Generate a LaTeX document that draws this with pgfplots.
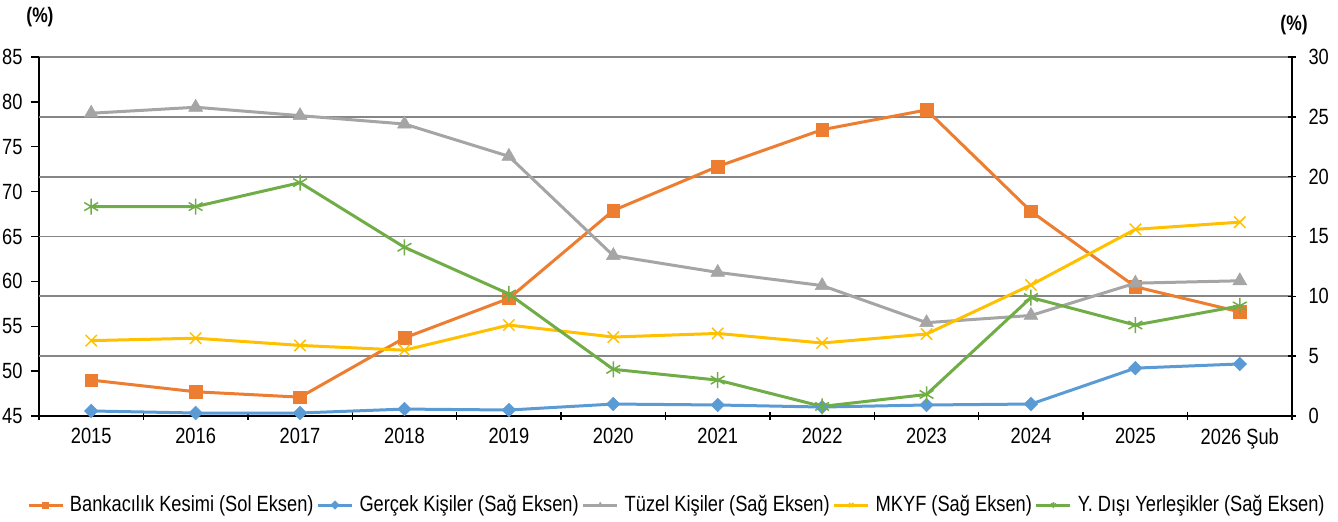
\documentclass[border=0pt]{standalone}
\usepackage{pgfplots}
\pgfplotsset{compat=1.18}
\usepackage{fontspec}
\setmainfont{Liberation Sans}[FakeStretch=0.83]
\definecolor{cOr}{HTML}{ED7D31}
\definecolor{cBl}{HTML}{5B9BD5}
\definecolor{cGr}{HTML}{A5A5A5}
\definecolor{cYe}{HTML}{FFC000}
\definecolor{cGn}{HTML}{70AD47}
\definecolor{cGrid}{HTML}{868686}
\pgfplotsset{
  sOr/.style={color=cOr, line width=3bp, mark=square*, mark size=6.3bp, mark options={solid, line width=0.5bp}},
  sBl/.style={color=cBl, line width=3bp, mark=square*, mark size=4.8bp, mark options={solid, rotate=45, line width=0.5bp}},
  sGr/.style={color=cGr, line width=3bp, mark=triangle*, mark size=8bp, mark options={solid, line width=0.5bp}},
  sYe/.style={color=cYe, line width=3bp, mark=x, mark size=8bp, mark options={solid, line width=1.5bp}},
  sGn/.style={color=cGn, line width=3bp, mark=asterisk, mark size=8bp, mark options={solid, line width=1.5bp}},
}
\begin{document}
\fontsize{22bp}{26bp}\selectfont
\begin{tikzpicture}
\useasboundingbox (-39bp,-106bp) rectangle (1299bp,416bp);
\draw[cGrid, line width=2.2bp] (0bp,359bp) -- (1253bp,359bp);
\begin{axis}[
  at={(0,0)}, anchor=south west,
  scale only axis, width=1253bp, height=359bp,
  xmin=-0.5, xmax=11.5, ymin=45, ymax=85,
  axis x line*=bottom, axis y line*=left,
  axis line style={black, line width=1.4bp, -},
  xtick={-0.5,0.5,...,11.5}, xticklabels={},
  xtick align=center, ytick align=outside,
  major tick length=8bp,
  tick style={black, line width=1.4bp},
  extra x ticks={0,1,...,11},
  extra x tick labels={2015,2016,2017,2018,2019,2020,2021,2022,2023,2024,2025,2026 Şub},
  extra x tick style={major tick length=0bp, tick style={draw=none}},
  ytick={45,50,...,85},
  extra y ticks={51.6667,58.3333,65,71.6667,78.3333},
  extra y tick labels={},
  extra y tick style={grid=major, major tick length=0bp, tick style={draw=none}, major grid style={cGrid, line width=1.8bp}},
  ticklabel style={font=\fontsize{22bp}{26bp}\selectfont},
  /pgf/number format/assume math mode=true,
  yticklabel style={xshift=-1bp},
  xticklabel style={yshift=-5bp},
  clip=false,
]
\addplot[sOr] coordinates {(0,49.0)(1,47.7)(2,47.1)(3,53.7)(4,58.1)(5,67.9)(6,72.8)(7,76.9)(8,79.1)(9,67.8)(10,59.4)(11,56.6)};
\end{axis}
\begin{axis}[
  at={(0,0)}, anchor=south west,
  scale only axis, width=1253bp, height=359bp,
  xmin=-0.5, xmax=11.5, ymin=0, ymax=30,
  axis x line=none, axis y line*=right,
  axis line style={black, line width=1.4bp, -},
  ytick={0,5,...,30},
  ytick align=center,
  major tick length=8bp,
  tick style={black, line width=1.4bp},
  ticklabel style={font=\fontsize{22bp}{26bp}\selectfont},
  /pgf/number format/assume math mode=true,
  yticklabel style={xshift=5bp},
  clip=false,
  legend columns=-1,
  legend style={at={(axis description cs:0.509,-0.248)}, anchor=center, draw=none, fill=none,
    font=\fontsize{22bp}{26bp}\selectfont, inner sep=0pt,
    /tikz/every even column/.append style={column sep=1bp},
    /tikz/every odd column/.append style={column sep=4bp}},
  legend image code/.code={\draw[#1, mark size=3bp, mark repeat=2, mark phase=2] plot coordinates {(0bp,0bp)(17bp,0bp)(34bp,0bp)};},
]
\addlegendimage{sOr}
\addlegendentry{Bankacılık Kesimi (Sol Eksen)}
\addplot[sBl] coordinates {(0,0.42)(1,0.25)(2,0.25)(3,0.58)(4,0.5)(5,1.0)(6,0.92)(7,0.75)(8,0.92)(9,1.0)(10,4.0)(11,4.35)};
\addlegendentry{Gerçek Kişiler (Sağ Eksen)}
\addplot[sGr] coordinates {(0,25.3)(1,25.8)(2,25.1)(3,24.4)(4,21.7)(5,13.4)(6,12.0)(7,10.9)(8,7.8)(9,8.4)(10,11.1)(11,11.3)};
\addlegendentry{Tüzel Kişiler (Sağ Eksen)}
\addplot[sYe] coordinates {(0,6.3)(1,6.5)(2,5.9)(3,5.5)(4,7.6)(5,6.6)(6,6.9)(7,6.1)(8,6.85)(9,10.95)(10,15.6)(11,16.2)};
\addlegendentry{MKYF (Sağ Eksen)}
\addplot[sGn] coordinates {(0,17.5)(1,17.5)(2,19.5)(3,14.1)(4,10.2)(5,3.9)(6,3.0)(7,0.8)(8,1.8)(9,9.9)(10,7.6)(11,9.2)};
\addlegendentry{Y. Dışı Yerleşikler (Sağ Eksen)}
\end{axis}
\node[font=\bfseries\fontsize{21bp}{24bp}\selectfont] at (1bp,399bp) {(\%)};
\node[font=\bfseries\fontsize{21bp}{24bp}\selectfont] at (1255bp,391bp) {(\%)};
\end{tikzpicture}
\end{document}
